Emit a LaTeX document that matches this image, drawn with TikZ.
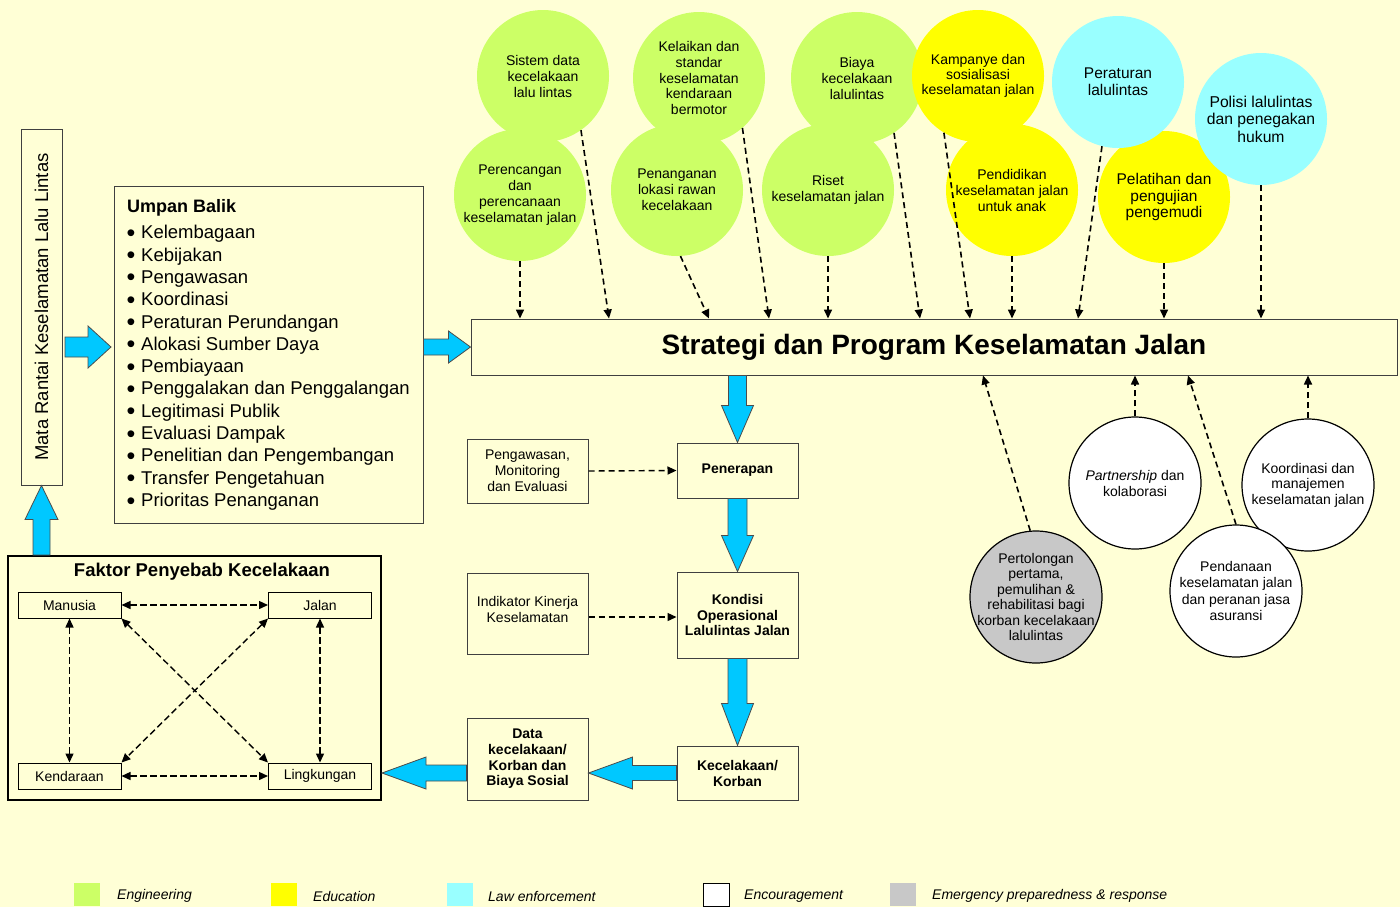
\documentclass[tikz,border=0pt]{standalone}
\usepackage{fontspec}
\setmainfont{Liberation Sans}
\usetikzlibrary{arrows.meta,calc}
\definecolor{bgA}{RGB}{255,255,214}
\definecolor{bgB}{RGB}{255,255,238}
\definecolor{eng}{RGB}{204,255,102}
\definecolor{edu}{RGB}{255,255,0}
\definecolor{law}{RGB}{153,255,255}
\definecolor{emg}{RGB}{200,200,200}
\definecolor{bluec}{RGB}{0,200,255}
\newcommand\fs[2]{\fontsize{#1}{#2}\selectfont}
\newcommand\bul{\makebox[14pt][l]{\hspace{-0.5pt}\smash{\raisebox{-2.6pt}{\fs{25}{20}\textbullet}}}}
\newcommand\blockarrow[6][]{%
  \coordinate (bah) at ($(#3)!#6!(#2)$);
  \draw[blockarr,#1] ($(#2)!#4!90:(#3)$) -- ($(bah)!#4!90:(#3)$) -- ($(bah)!#5!90:(#3)$) -- (#3)
    -- ($(bah)!#5!-90:(#3)$) -- ($(bah)!#4!-90:(#3)$) -- ($(#2)!#4!-90:(#3)$) -- cycle;
}
\tikzset{
  circ/.style={circle, minimum size=132pt, inner sep=-12pt, align=center, font=\fs{14}{16}},
  engc/.style={circ, fill=eng},
  educ/.style={circ, fill=edu},
  lawc/.style={circ, fill=law, font=\fs{15.5}{17}},
  encc/.style={circ, fill=white, draw=black, line width=1.2pt},
  emgc/.style={circ, fill=emg, draw=black, line width=1.2pt, font=\fs{14}{15.4}},
  dasharr/.style={-{Triangle[length=9pt,width=8pt]}, dash pattern=on 6pt off 4pt, line width=1.6pt},
  dashboth/.style={{Triangle[length=9pt,width=8pt]}-{Triangle[length=9pt,width=8pt]}, dash pattern=on 6.5pt off 3.5pt, line width=1.4pt},
  box/.style={draw=black!75, line width=1pt, inner sep=0pt, align=center, font=\fs{14}{16}},
  fbox/.style={draw=black, line width=1pt, inner sep=0pt, font=\fs{14}{16}, minimum width=103pt, minimum height=26pt},
  blockarr/.style={fill=bluec, draw=black!70, line width=0.8pt, line join=miter},
  legsq/.style={anchor=north west, minimum width=26pt, minimum height=23pt, inner sep=0pt},
  legtx/.style={anchor=west, inner sep=0pt, font=\fs{14}{16}\itshape},
}
\begin{document}
\begin{tikzpicture}[x=1pt,y=-1pt]
\useasboundingbox (0,0) rectangle (1400,906);
\shade[left color=bgA, middle color=bgB, right color=bgA] (0,0) rectangle (1400,906);

% --- top circles: engineering ---
\node[engc] (sistem) at (543,76) {Sistem data\\kecelakaan\\lalu lintas};
\node[engc] (perenc) at (520,195) {Perencangan\\dan\\perencanaan\\keselamatan jalan};
\node[engc, font=\fs{14}{15.75}] (kelaik) at (699,78) {Kelaikan dan\\standar\\keselamatan\\kendaraan\\bermotor};
\node[engc] (penang) at (677,190) {Penanganan\\lokasi rawan\\kecelakaan};
\node[engc] (biaya) at (857,78) {Biaya\\kecelakaan\\lalulintas};
\node[engc, font=\fs{14}{15.5}] (riset) at (828,190) {Riset\\keselamatan jalan};
% education
\node[educ, font=\fs{14}{15.2}] (kamp) at (978,76) {Kampanye dan\\sosialisasi\\keselamatan jalan};
\node[educ] (pendid) at (1012,190) {Pendidikan\\keselamatan jalan\\untuk anak};
\node[educ, font=\fs{15.5}{16.8}] (pelat) at (1164,197) {Pelatihan dan\\pengujian\\pengemudi};
% law enforcement
\node[lawc, font=\fs{15.5}{16.8}] (perat) at (1118,82) {Peraturan\\lalulintas};
\node[lawc, font=\fs{15.7}{17.5}] (polisi) at (1261,119) {Polisi lalulintas\\dan penegakan\\hukum};

% --- bottom right circles ---
\node[emgc] (tolong) at (1036,597) {Pertolongan\\pertama,\\pemulihan \&\\rehabilitasi bagi\\korban kecelakaan\\lalulintas};
\node[encc] (partner) at (1135,483) {\textit{Partnership} dan\\kolaborasi};
\node[encc, font=\fs{14}{15.5}] (koord) at (1308,485) {Koordinasi dan\\manajemen\\keselamatan jalan};
\node[encc, font=\fs{14}{16.1}] (pendana) at (1236,591) {Pendanaan\\keselamatan jalan\\dan peranan jasa\\asuransi};

% --- main strategy box ---
\node[box, minimum width=926pt, minimum height=56pt, font=\fs{28}{30}\bfseries] (strat) at (934,347) {Strategi dan Program Keselamatan Jalan};

% arrows into strategy box from top
\draw[dasharr] (perenc.south) -- (perenc.south |- strat.north);
\draw[dasharr] (sistem.-55) -- (609,0 |- strat.north);
\draw[dasharr] (penang.-87) -- (709,0 |- strat.north);
\draw[dasharr] (kelaik.-49) -- (769,0 |- strat.north);
\draw[dasharr] (riset.south) -- (riset.south |- strat.north);
\draw[dasharr] (biaya.-56) -- (920,0 |- strat.north);
\draw[dasharr] (kamp.-121) -- (970,0 |- strat.north);
\draw[dasharr] (pendid.south) -- (pendid.south |- strat.north);
\draw[dasharr] (perat.-104) -- (1078,0 |- strat.north);
\draw[dasharr] (pelat.south) -- (pelat.south |- strat.north);
\draw[dasharr] (polisi.south) -- (polisi.south |- strat.north);
% arrows into strategy box from bottom
\draw[dasharr] (tolong.95) -- (983,0 |- strat.south);
\draw[dasharr] (partner.north) -- (partner.north |- strat.south);
\draw[dasharr] (pendana.north) -- (1188,0 |- strat.south);
\draw[dasharr] (koord.north) -- (koord.north |- strat.south);

% --- left side ---
\node[box, rotate=90, minimum width=356pt, minimum height=41pt, font=\fs{18.5}{20}] (mata) at (41.5,307) {Mata Rantai Keselamatan Lalu Lintas};
\node[box, minimum width=309pt, minimum height=337pt] (umpan) at (268.5,354.5) {};
\node[anchor=north west, align=left, inner sep=0pt, font=\fs{18.5}{22.33}] (umpantxt) at (127,199.5) {%
  \textbf{\fs{18}{22}Umpan Balik}\\[3.6pt]
  \bul Kelembagaan\\
  \bul Kebijakan\\
  \bul Pengawasan\\
  \bul Koordinasi\\
  \bul Peraturan Perundangan\\
  \bul Alokasi Sumber Daya\\
  \bul Pembiayaan\\
  \bul Penggalakan dan Penggalangan\\
  \bul Legitimasi Publik\\
  \bul Evaluasi Dampak\\
  \bul Penelitian dan Pengembangan\\
  \bul Transfer Pengetahuan\\
  \bul Prioritas Penanganan};

% Faktor penyebab
\node[draw=black, line width=2pt, minimum width=373pt, minimum height=244pt, inner sep=0pt] (faktor) at (194.5,678) {};
\node[font=\fs{18.5}{20}\bfseries, inner sep=0pt] (faktortitle) at (202,572) {Faktor Penyebab Kecelakaan};
\node[fbox] (manusia) at (69.5,605) {Manusia};
\node[fbox] (jalan) at (320,605) {Jalan};
\node[fbox] (kend) at (69.5,776) {Kendaraan};
\node[fbox] (ling) at (320,776) {Lingkungan};
\draw[dashboth] (manusia.east) -- (jalan.west);
\draw[dashboth] (kend.east) -- (ling.west);
\draw[dashboth] (manusia.south) -- (kend.north);
\draw[dashboth] (jalan.south) -- (ling.north);
\draw[dashboth] (manusia.south east) -- (ling.north west);
\draw[dashboth] (jalan.south west) -- (kend.north east);

% --- middle column ---
\node[box, minimum width=121pt, minimum height=64pt] (pengaw) at (527.5,471) {Pengawasan,\\Monitoring\\dan Evaluasi};
\node[box, minimum width=121pt, minimum height=55pt, font=\fs{14}{16}\bfseries] (pener) at (737.5,470.5) {Penerapan};
\node[box, minimum width=121pt, minimum height=81pt] (indik) at (527.5,613.5) {};
\node[align=center, inner sep=0pt, font=\fs{14}{15.5}] (indiktxt) at (527.5,609.5) {Indikator Kinerja\\Keselamatan};
\node[box, minimum width=121pt, minimum height=86pt, font=\fs{14}{15.6}\bfseries] (kondisi) at (737.5,615) {Kondisi\\Operasional\\Lalulintas Jalan};
\node[box, minimum width=121pt, minimum height=54pt, font=\fs{14}{16}\bfseries] (kec) at (737.5,773) {Kecelakaan/\\Korban};
\node[box, minimum width=121pt, minimum height=82pt, font=\fs{14}{15.7}\bfseries] (data) at (527.5,759) {Data\\kecelakaan/\\Korban dan\\Biaya Sosial};

\draw[dasharr, line width=1.4pt] (pengaw.east) -- (pener.west);
\draw[dasharr, line width=1.4pt] (indik.east |- 0,617) -- (kondisi.west |- 0,617);

% --- block arrows ---
\coordinate (a1s) at (65,347);
\coordinate (a1e) at (111,347);
\blockarrow{a1s}{a1e}{10pt}{21pt}{23pt}
\blockarrow{umpan.east |- strat.west}{strat.west}{8pt}{16pt}{22pt}
\blockarrow{mata.west |- faktor.north}{mata.west}{8.5pt}{16.5pt}{34pt}
\blockarrow{pener.north |- strat.south}{pener.north}{9pt}{16pt}{37pt}
\blockarrow{pener.south}{kondisi.north}{9.5pt}{16pt}{36pt}
\blockarrow{kondisi.south}{kec.north}{9.5pt}{16pt}{42pt}
\blockarrow{kec.west}{data.east |- kec.west}{7.5pt}{16pt}{44pt}
\blockarrow{data.west |- kec.west}{faktor.east |- kec.west}{8pt}{16pt}{44pt}

% --- legend ---
\node[legsq, fill=eng] (lg1) at (74,883) {};
\node[legtx] (lt1) at (117,896) {Engineering};
\node[legsq, fill=edu] (lg2) at (271,883) {};
\node[legtx] (lt2) at (313,896) {Education};
\node[legsq, fill=law] (lg3) at (447,883) {};
\node[legtx] (lt3) at (488,896) {Law enforcement};
\node[legsq, fill=white, draw=black, line width=1pt] (lg4) at (703,883) {};
\node[legtx] (lt4) at (744,896) {Encouragement};
\node[legsq, fill=emg] (lg5) at (890,883) {};
\node[legtx] (lt5) at (932,896) {Emergency preparedness \& response};
\end{tikzpicture}
\end{document}
